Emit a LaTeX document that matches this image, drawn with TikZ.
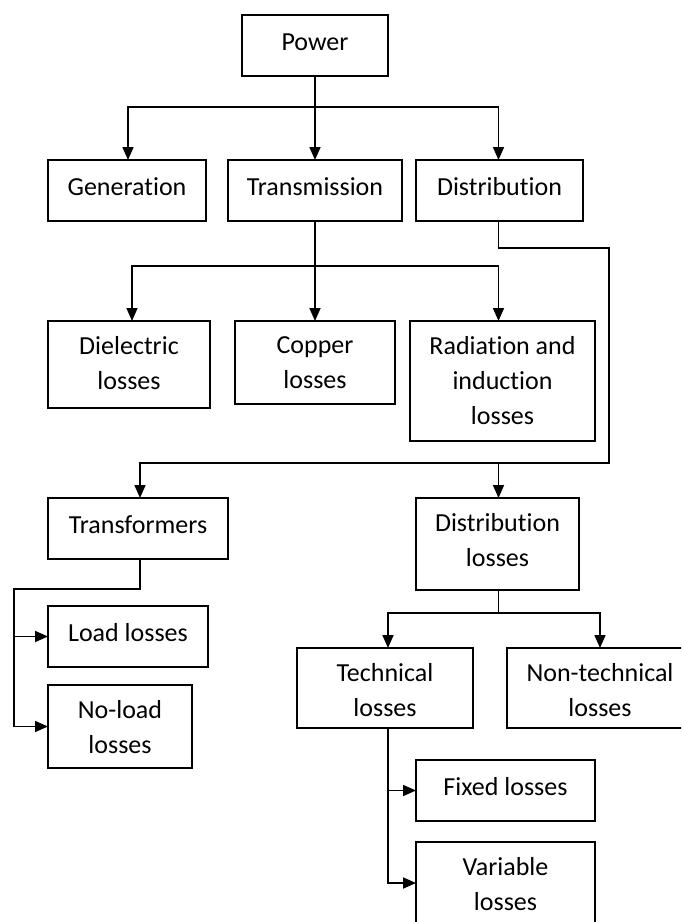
\documentclass[tikz,border=0pt]{standalone}
\usepackage{fontspec}
\setmainfont{Carlito}[Ligatures={NoCommon}]
\usetikzlibrary{arrows.meta}

% box given by its corners: name, x1, y1, x2, y2 (y grows downwards)
\newcommand\diagbox[5]{%
  \node[bx, minimum width={#4-#2}, minimum height={#5-#3}] (#1) at ({(#2+#4)/2},{(#3+#5)/2}) {};}
% centred text hanging from the top edge of a box
\newcommand\diaglabel[3]{%
  \node[lbl] (#1) at ([yshift=-15pt]#2.north) {#3};}

\begin{document}
\begin{tikzpicture}[x=1pt, y=-1pt,
  bx/.style={draw=black, line width=1.7pt, rectangle, inner sep=0pt, outer sep=0pt},
  lbl/.style={anchor=north, inner sep=0pt, align=center,
              font=\fontsize{26}{35}\selectfont,
              execute at begin node={\rule{0pt}{20pt}}},
  ln/.style={line width=1.7pt, draw=black},
  arr/.style={ln, -{Triangle[length=13pt, width=11pt]}}]

\clip (0,0) rectangle (681,922);
\useasboundingbox (0,0) rectangle (681,922);

% boxes
\diagbox{pw}{242}{15}{388}{76}
\diagbox{gen}{48}{160}{206}{221}
\diagbox{trans}{228}{160}{402}{221}
\diagbox{dist}{416}{160}{583}{221}
\diagbox{diel}{48}{321}{210}{408}
\diagbox{cop}{235}{321}{395}{404}
\diagbox{rad}{410}{321}{595}{441}
\diagbox{tr}{48}{498}{228}{559}
\diagbox{dl}{416}{498}{579}{590}
\diagbox{ll}{48}{606}{208}{667}
\diagbox{nl}{48}{685}{192}{768}
\diagbox{tech}{297}{648}{473}{728}
\diagbox{ntech}{507}{648}{693}{728}
\diagbox{fix}{416}{760}{595}{821}
\diagbox{var}{416}{842}{595}{924}

% labels
\diaglabel{pwt}{pw}{Power}
\diaglabel{gent}{gen}{Generation}
\diaglabel{transt}{trans}{Transmission}
\diaglabel{distt}{dist}{Distribution}
\diaglabel{dielt}{diel}{Dielectric\\losses}
\diaglabel{copt}{cop}{Copper\\losses}
\diaglabel{radt}{rad}{Radiation and\\induction\\losses}
\diaglabel{trt}{tr}{Transformers}
\diaglabel{dlt}{dl}{Distribution\\losses}
\diaglabel{llt}{ll}{Load losses}
\diaglabel{nlt}{nl}{No-load\\losses}
\diaglabel{techt}{tech}{Technical\\losses}
\diaglabel{ntecht}{ntech}{Non-technical\\losses}
\diaglabel{fixt}{fix}{Fixed losses}
\diaglabel{vart}{var}{Variable\\losses}

% Power -> generation, transmission, distribution
\coordinate (b1) at (pw.south |- 0,107);
\draw[ln] (pw.south) -- (b1);
\draw[arr] (b1) -| ([xshift=1pt]gen.north);
\draw[arr] (b1) -- (trans.north);
\draw[arr] (b1) -| ([xshift=-1pt]dist.north);

% Transmission -> its losses
\coordinate (b2) at (trans.south |- 0,266);
\draw[ln] (trans.south) -- (b2);
\draw[arr] (b2) -| ([xshift=3pt]diel.north);
\draw[arr] (b2) -- (cop.north);
\draw[arr] (b2) -| ([xshift=-4pt]rad.north);

% Distribution -> transformers, distribution losses
\coordinate (r1) at (609,248);
\coordinate (r2) at (609,463);
\draw[arr] ([xshift=-1pt]dist.south) |- (r1) -- (r2) -| ([xshift=2pt]tr.north);
\draw[arr] ([xshift=1pt]dl.north |- r2) -- ([xshift=1pt]dl.north);

% Transformers -> load, no-load losses
\coordinate (t1) at (14,589);
\draw[arr] ([xshift=2pt]tr.south) |- (t1) |- (nl.west);
\draw[arr] (t1 |- ll.west) -- (ll.west);

% Distribution losses -> technical, non-technical
\coordinate (b3) at ([xshift=1pt]dl.south |- 0,613);
\draw[ln] ([xshift=1pt]dl.south) -- (b3);
\draw[arr] (b3) -| ([xshift=3pt]tech.north);
\draw[arr] (b3) -| (ntech.north);

% Technical -> fixed, variable
\draw[arr] ([xshift=3pt]tech.south) |- (var.west);
\draw[arr] ([xshift=3pt]tech.south |- fix.west) -- (fix.west);

\end{tikzpicture}
\end{document}
